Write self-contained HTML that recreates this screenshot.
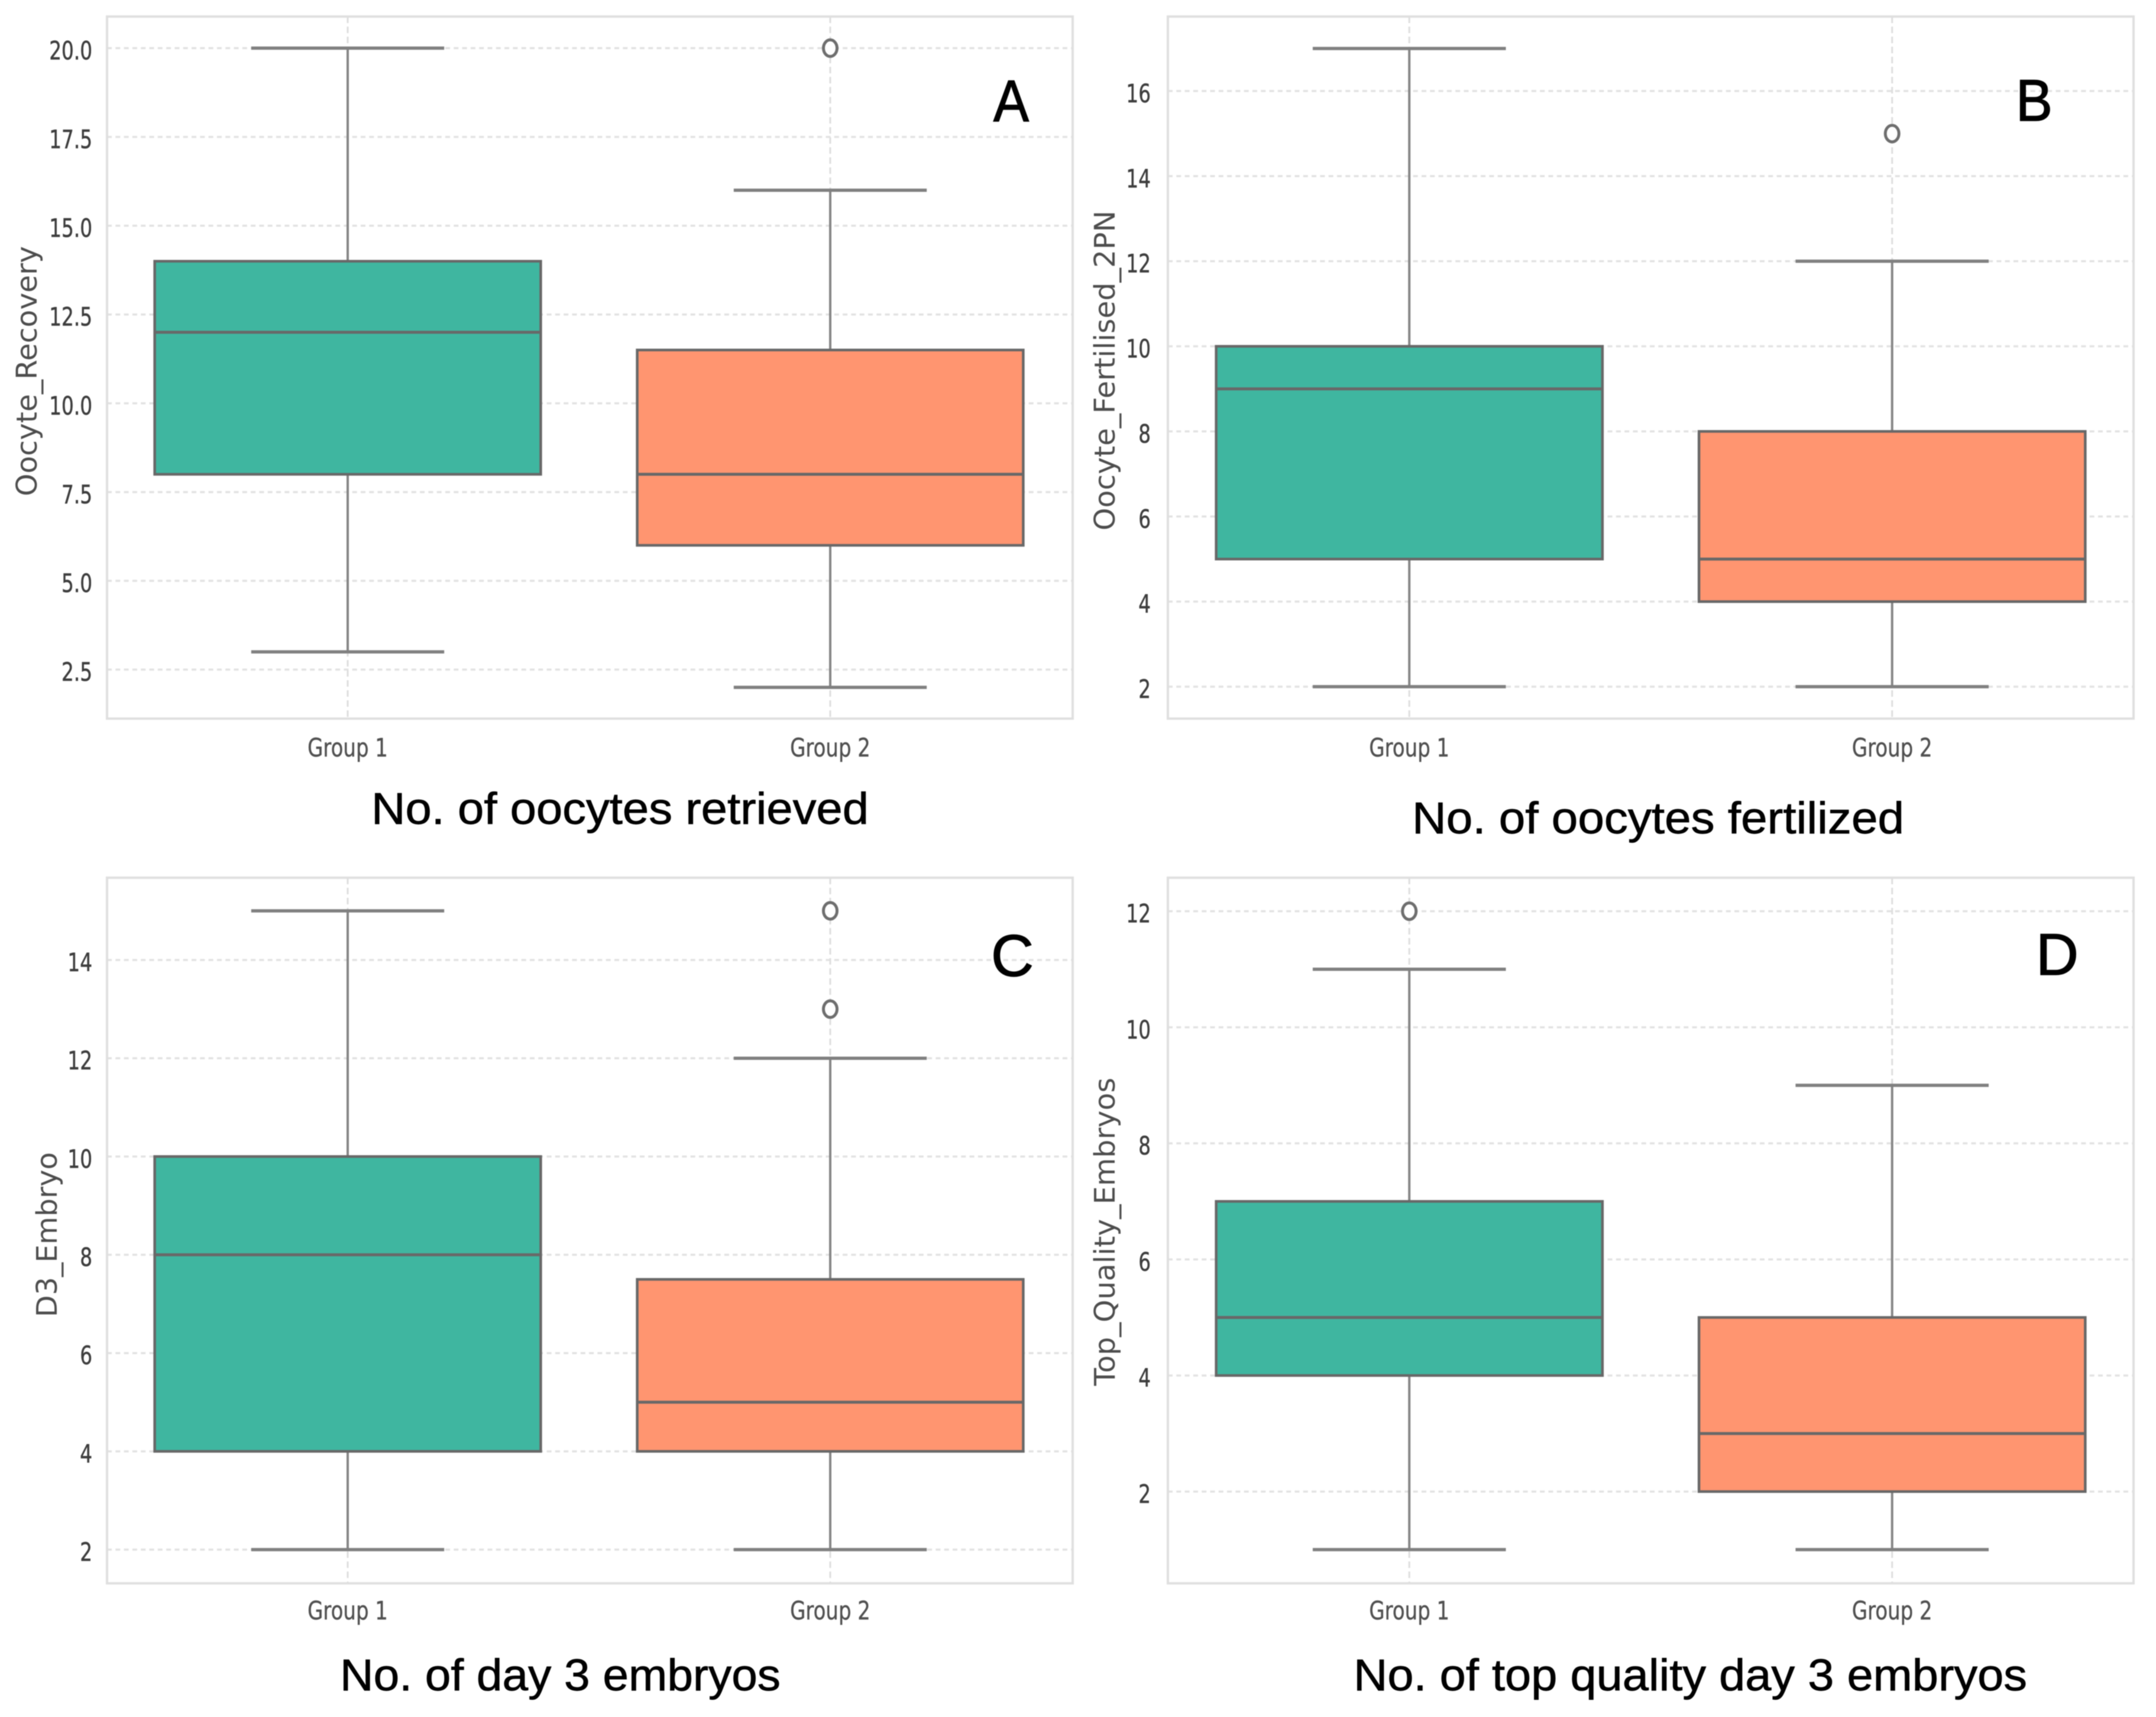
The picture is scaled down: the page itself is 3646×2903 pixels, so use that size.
<!DOCTYPE html>
<html lang="en">
<head>
<meta charset="utf-8">
<title>Boxplots of embryology outcomes by group</title>
<style>
html,body{margin:0;padding:0;background:#fff;}
#figure{display:block;width:3646px;height:2903px;filter:blur(0.9px);}
.tick{font-family:"DejaVu Sans",sans-serif;font-size:43px;fill:#3d3d3d;stroke:#3d3d3d;stroke-width:0.6px;}
.cat{font-family:"DejaVu Sans",sans-serif;font-size:43px;fill:#505050;stroke:#505050;stroke-width:0.5px;}
.ytitle{font-family:"DejaVu Sans",sans-serif;font-size:48px;fill:#4d4d4d;}
.caption{font-family:"Liberation Sans",sans-serif;font-size:75px;fill:#000;stroke:#000;stroke-width:0.9px;}
.letter{font-family:"Liberation Sans",sans-serif;font-size:99px;fill:#000;stroke:#000;stroke-width:1.6px;}
</style>
</head>
<body>
<svg id="figure" xmlns="http://www.w3.org/2000/svg" width="3646" height="2903" viewBox="0 0 3646 2903">
  <rect x="0" y="0" width="3646" height="2903" fill="#ffffff"/>
  <g id="panels"></g>

  <text class="ytitle" transform="translate(62,839) rotate(-90)" textLength="423" lengthAdjust="spacingAndGlyphs">Oocyte_Recovery</text>
  <text class="ytitle" transform="translate(1885,897) rotate(-90)" textLength="541" lengthAdjust="spacingAndGlyphs">Oocyte_Fertilised_2PN</text>
  <text class="ytitle" transform="translate(96,2227) rotate(-90)" textLength="279" lengthAdjust="spacingAndGlyphs">D3_Embryo</text>
  <text class="ytitle" transform="translate(1885,2343) rotate(-90)" textLength="521" lengthAdjust="spacingAndGlyphs">Top_Quality_Embryos</text>

  <text class="letter" x="1680" y="205" textLength="60" lengthAdjust="spacingAndGlyphs">A</text>
  <text class="letter" x="3409" y="204" textLength="62" lengthAdjust="spacingAndGlyphs">B</text>
  <text class="letter" x="1676" y="1650" textLength="72" lengthAdjust="spacingAndGlyphs">C</text>
  <text class="letter" x="3443" y="1648" textLength="72" lengthAdjust="spacingAndGlyphs">D</text>

  <text class="caption" x="628" y="1393" textLength="841" lengthAdjust="spacingAndGlyphs">No. of oocytes retrieved</text>
  <text class="caption" x="2388" y="1409" textLength="832" lengthAdjust="spacingAndGlyphs">No. of oocytes fertilized</text>
  <text class="caption" x="575" y="2858" textLength="745" lengthAdjust="spacingAndGlyphs">No. of day 3 embryos</text>
  <text class="caption" x="2289" y="2858" textLength="1139" lengthAdjust="spacingAndGlyphs">No. of top quality day 3 embryos</text>
</svg>

<script>
// ---- Shared categories ----
const categories = ['Group 1', 'Group 2'];

// ---- Panel A: Oocyte_Recovery ----
const aTicks = [2.5, 5, 7.5, 10, 12.5, 15, 17.5, 20];
const aTickLabels = ['2.5', '5.0', '7.5', '10.0', '12.5', '15.0', '17.5', '20.0'];
const aWhiskerLow = [3, 2];
const aQ1 = [8, 6];
const aMedian = [12, 8];
const aQ3 = [14, 11.5];
const aWhiskerHigh = [20, 16];
const aOutliers = [[], [20]];
const aDomain = [1.12, 20.89];

// ---- Panel B: Oocyte_Fertilised_2PN ----
const bTicks = [2, 4, 6, 8, 10, 12, 14, 16];
const bTickLabels = ['2', '4', '6', '8', '10', '12', '14', '16'];
const bWhiskerLow = [2, 2];
const bQ1 = [5, 4];
const bMedian = [9, 5];
const bQ3 = [10, 8];
const bWhiskerHigh = [17, 12];
const bOutliers = [[], [15]];
const bDomain = [1.25, 17.75];

// ---- Panel C: D3_Embryo ----
const cTicks = [2, 4, 6, 8, 10, 12, 14];
const cTickLabels = ['2', '4', '6', '8', '10', '12', '14'];
const cWhiskerLow = [2, 2];
const cQ1 = [4, 4];
const cMedian = [8, 5];
const cQ3 = [10, 7.5];
const cWhiskerHigh = [15, 12];
const cOutliers = [[], [13, 15]];
const cDomain = [1.314, 15.674];

// ---- Panel D: Top_Quality_Embryos ----
const dTicks = [2, 4, 6, 8, 10, 12];
const dTickLabels = ['2', '4', '6', '8', '10', '12'];
const dWhiskerLow = [1, 1];
const dQ1 = [4, 2];
const dMedian = [5, 3];
const dQ3 = [7, 5];
const dWhiskerHigh = [11, 9];
const dOutliers = [[12], []];
const dDomain = [0.419, 12.577];

// ---- Layout (pixels and styles only) ----
const frames = {
  a: {left: 180, right: 1812, spineLeft: 181, spineRight: 1814, top: 28, bottom: 1215, catBase: 1279, tickRight: 156},
  b: {left: 1975, right: 3608, spineLeft: 1975, spineRight: 3608, top: 28, bottom: 1215, catBase: 1279, tickRight: 1946},
  c: {left: 180, right: 1812, spineLeft: 181, spineRight: 1814, top: 1484, bottom: 2677, catBase: 2738, tickRight: 156},
  d: {left: 1975, right: 3608, spineLeft: 1975, spineRight: 3608, top: 1484, bottom: 2677, catBase: 2738, tickRight: 1946}
};
const fills = ['#3fb6a0', '#ff9570'];
const SVG_NS = 'http://www.w3.org/2000/svg';
const root = document.getElementById('panels');

function shape(parent, tag, attrs) {
  const el = document.createElementNS(SVG_NS, tag);
  for (const k in attrs) el.setAttribute(k, attrs[k]);
  parent.appendChild(el);
  return el;
}

function drawPanel(id, frame, domain, ticks, tickLabels, low, q1, med, q3, high, outliers) {
  // axis functions
  const yScale = v => frame.bottom - (v - domain[0]) / (domain[1] - domain[0]) * (frame.bottom - frame.top);
  const unit = (frame.right - frame.left) / categories.length;
  const xScale = i => frame.left + unit * (i + 0.5);
  const boxW = unit * 0.8;
  const capW = unit * 0.4;

  const g = shape(root, 'g', {});
  
  

  // horizontal grid and tick labels
  ticks.forEach((t, i) => {
    const y = yScale(t);
    const line = shape(g, 'line', {x1: frame.spineLeft, x2: frame.spineRight, y1: y, y2: y, stroke: '#e2e2e2', 'stroke-width': 3.5, 'stroke-dasharray': '8 6.3'});
    
    
    const label = shape(g, 'text', {class: 'tick', 'text-anchor': 'end', transform: 'translate(' + frame.tickRight + ',' + (y + 19) + ') scale(0.76,1)'});
    label.textContent = tickLabels[i];
    
    
  });

  // vertical grid and category labels
  categories.forEach((c, i) => {
    const x = xScale(i);
    const line = shape(g, 'line', {x1: x, x2: x, y1: frame.top, y2: frame.bottom, stroke: '#dedede', 'stroke-width': 3, 'stroke-dasharray': '11 6'});
    
    
    const label = shape(g, 'text', {class: 'cat', 'text-anchor': 'middle', transform: 'translate(' + x + ',' + frame.catBase + ') scale(0.79,1)'});
    label.textContent = c;
    
    
  });

  // spines
  const spine = shape(g, 'rect', {x: frame.spineLeft, y: frame.top, width: frame.spineRight - frame.spineLeft, height: frame.bottom - frame.top, fill: 'none', stroke: '#dfdfdf', 'stroke-width': 4});
  
  

  // boxes
  categories.forEach((c, i) => {
    const x = xScale(i);
    const n = id + '-group-' + (i + 1);

    const upper = shape(g, 'line', {x1: x, x2: x, y1: yScale(q3[i]), y2: yScale(high[i]), stroke: '#858585', 'stroke-width': 4});
    
    

    const lower = shape(g, 'line', {x1: x, x2: x, y1: yScale(q1[i]), y2: yScale(low[i]), stroke: '#858585', 'stroke-width': 4});
    
    

    const capHigh = shape(g, 'line', {x1: x - capW / 2, x2: x + capW / 2, y1: yScale(high[i]), y2: yScale(high[i]), stroke: '#808080', 'stroke-width': 5.5});
    
    

    const capLow = shape(g, 'line', {x1: x - capW / 2, x2: x + capW / 2, y1: yScale(low[i]), y2: yScale(low[i]), stroke: '#808080', 'stroke-width': 5.5});
    
    

    const box = shape(g, 'rect', {x: x - boxW / 2, y: yScale(q3[i]), width: boxW, height: yScale(q1[i]) - yScale(q3[i]), fill: fills[i], stroke: '#686868', 'stroke-width': 4.5});
    
    

    const median = shape(g, 'line', {x1: x - boxW / 2, x2: x + boxW / 2, y1: yScale(med[i]), y2: yScale(med[i]), stroke: '#686868', 'stroke-width': 5});
    
    

    outliers[i].forEach(v => {
      const dot = shape(g, 'ellipse', {cx: x, cy: yScale(v), rx: 11.5, ry: 14, fill: '#ffffff', stroke: '#6e6e6e', 'stroke-width': 5});
      
      
    });
  });
}

drawPanel('a', frames.a, aDomain, aTicks, aTickLabels, aWhiskerLow, aQ1, aMedian, aQ3, aWhiskerHigh, aOutliers);
drawPanel('b', frames.b, bDomain, bTicks, bTickLabels, bWhiskerLow, bQ1, bMedian, bQ3, bWhiskerHigh, bOutliers);
drawPanel('c', frames.c, cDomain, cTicks, cTickLabels, cWhiskerLow, cQ1, cMedian, cQ3, cWhiskerHigh, cOutliers);
drawPanel('d', frames.d, dDomain, dTicks, dTickLabels, dWhiskerLow, dQ1, dMedian, dQ3, dWhiskerHigh, dOutliers);
</script>
</body>
</html>
